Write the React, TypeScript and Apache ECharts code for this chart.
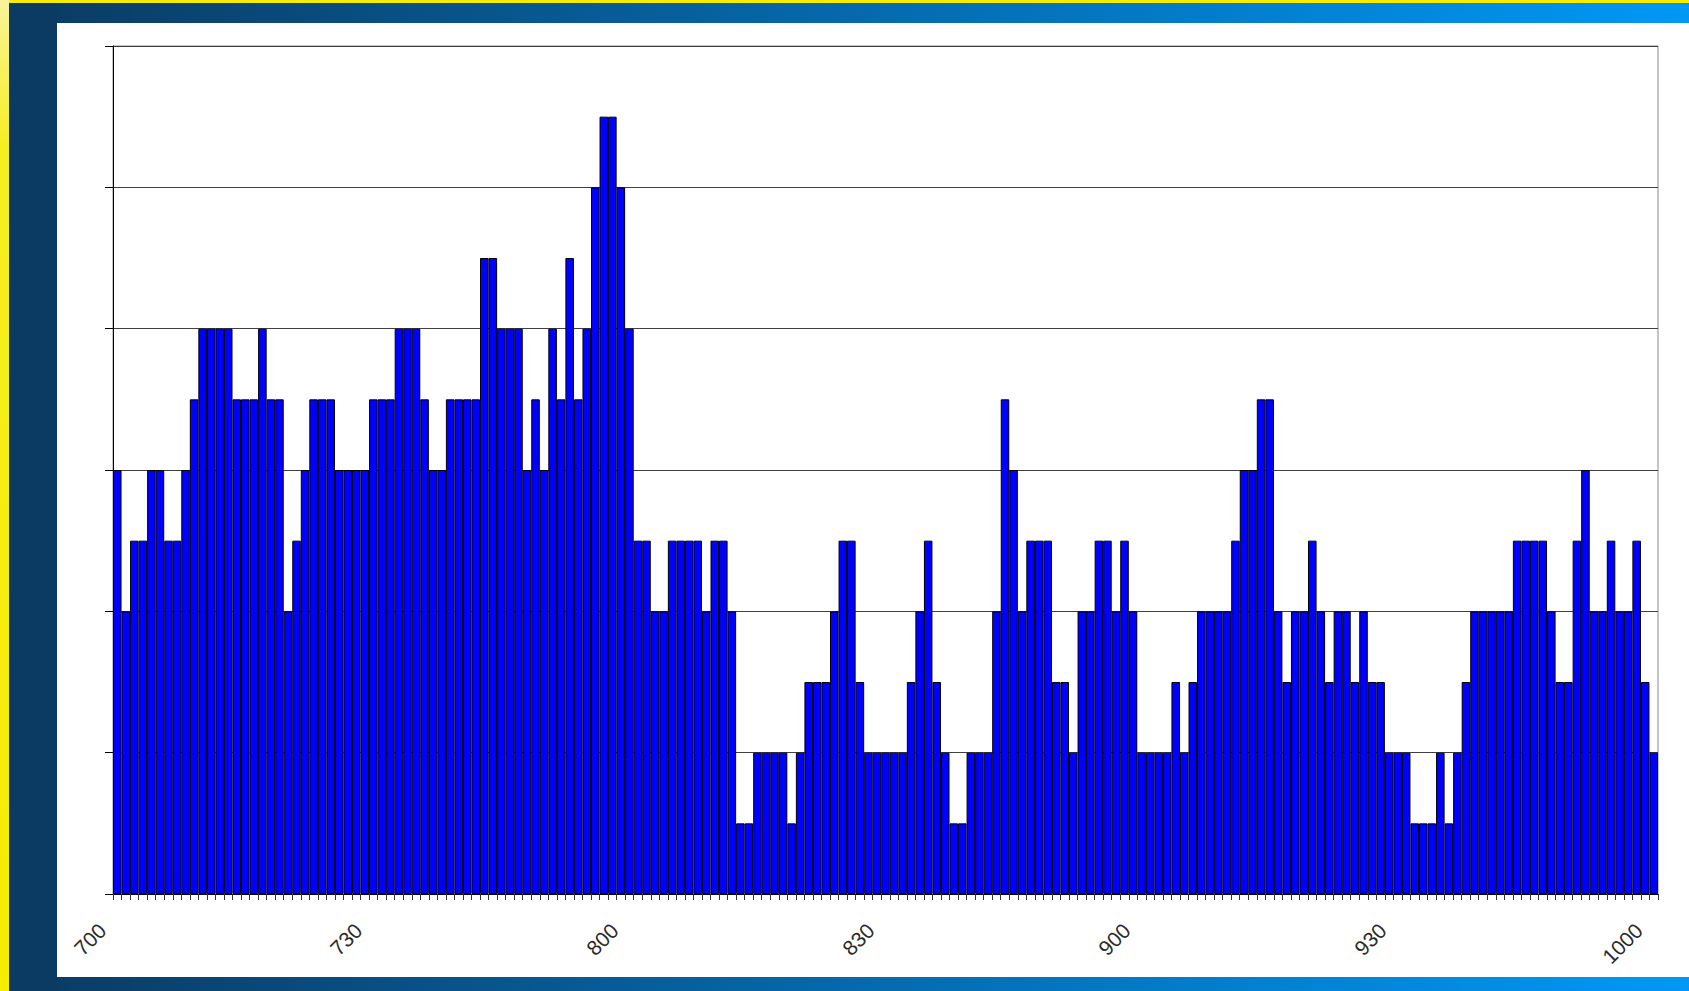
import React, { useEffect, useRef } from "react";
import * as echarts from "echarts";

// Category labels: minutes from 700 to 1000 (HMM)
const hours: number[] = [7, 8, 9, 10];
const categories: string[] = [];
hours.forEach((h) => {
  const last = h === 10 ? 0 : 59;
  for (let m = 0; m <= last; m++) categories.push(`${h}${m < 10 ? "0" + m : m}`);
});

// Counts per minute
const counts700: number[] = [
  6, 4, 5, 5, 6, 6, 5, 5, 6, 7, 8, 8, 8, 8, 7, 7, 7, 8, 7, 7,
  4, 5, 6, 7, 7, 7, 6, 6, 6, 6,
];
const counts730: number[] = [
  7, 7, 7, 8, 8, 8, 7, 6, 6, 7, 7, 7, 7, 9, 9, 8, 8, 8, 6, 7,
  6, 8, 7, 9, 7, 8, 10, 11, 11, 10,
];
const counts800: number[] = [
  8, 5, 5, 4, 4, 5, 5, 5, 5, 4, 5, 5, 4, 1, 1, 2, 2, 2, 2, 1,
  2, 3, 3, 3, 4, 5, 5, 3, 2, 2,
];
const counts830: number[] = [
  2, 2, 2, 3, 4, 5, 3, 2, 1, 1, 2, 2, 2, 4, 7, 6, 4, 5, 5, 5,
  3, 3, 2, 4, 4, 5, 5, 4, 5, 4,
];
const counts900: number[] = [
  2, 2, 2, 2, 3, 2, 3, 4, 4, 4, 4, 5, 6, 6, 7, 7, 4, 3, 4, 4,
  5, 4, 3, 4, 4, 3, 4, 3, 3, 2,
];
const counts930: number[] = [
  2, 2, 1, 1, 1, 2, 1, 2, 3, 4, 4, 4, 4, 4, 5, 5, 5, 5, 4, 3,
  3, 5, 6, 4, 4, 5, 4, 4, 5, 3,
];
const counts1000: number[] = [2];

const values: number[] = [
  ...counts700,
  ...counts730,
  ...counts800,
  ...counts830,
  ...counts900,
  ...counts930,
  ...counts1000,
];

const W = 1689;
const H = 991;

export default function App() {
  const ref = useRef<HTMLDivElement>(null);
  useEffect(() => {
    if (!ref.current) return;
    const chart = echarts.init(ref.current, undefined, { renderer: "svg" });
    const navy = "#0b3a62";
    const bright = "#0098f5";
    chart.setOption({
      animation: false,
      backgroundColor: "#ffffff",
      graphic: {
        elements: [
          {
            type: "rect",
            z: -10,
            shape: { x: 0, y: 0, width: W, height: 3 },
            style: { fill: "#f6ec00" },
          },
          {
            type: "rect",
            z: -10,
            shape: { x: 0, y: 0, width: 9, height: H },
            style: {
              fill: new echarts.graphic.LinearGradient(0, 0, 0, 1, [
                { offset: 0, color: "#f8f39a" },
                { offset: 0.15, color: "#f6ee20" },
                { offset: 1, color: "#f5ec00" },
              ]),
            },
          },
          {
            type: "rect",
            z: -10,
            shape: { x: 9, y: 3, width: W - 9, height: 20 },
            style: {
              fill: new echarts.graphic.LinearGradient(0, 0, 1, 0, [
                { offset: 0, color: navy },
                { offset: 1, color: bright },
              ]),
            },
          },
          {
            type: "rect",
            z: -10,
            shape: { x: 9, y: 977, width: W - 9, height: 14 },
            style: {
              fill: new echarts.graphic.LinearGradient(0, 0, 1, 0, [
                { offset: 0, color: navy },
                { offset: 1, color: bright },
              ]),
            },
          },
          {
            type: "rect",
            z: -10,
            shape: { x: 9, y: 3, width: 48, height: H - 3 },
            style: { fill: navy },
          },
        ],
      },
      grid: {
        left: 113,
        top: 46,
        width: 1545,
        height: 848,
        show: true,
        borderColor: "#8a8a8a",
        borderWidth: 1,
        backgroundColor: "#ffffff",
      },
      xAxis: {
        type: "category",
        data: categories,
        boundaryGap: true,
        axisLine: { show: true, lineStyle: { color: "#000000", width: 1 } },
        axisTick: {
          show: true,
          interval: 0,
          length: 6,
          lineStyle: { color: "#333333" },
        },
        axisLabel: {
          interval: 29,
          rotate: 45,
          fontFamily: "Liberation Sans, Arial, sans-serif",
          fontSize: 21,
          color: "#2a2a2a",
          margin: 18,
          padding: [0, 21, 0, 0],
        },
        splitLine: { show: false },
      },
      yAxis: {
        type: "value",
        min: 0,
        max: 12,
        interval: 2,
        axisLine: { show: true, lineStyle: { color: "#000000", width: 1 } },
        axisTick: { show: true, length: 8, lineStyle: { color: "#000000" } },
        axisLabel: { show: false },
        splitLine: { show: true, lineStyle: { color: "#404040", width: 1 } },
      },
      series: [
        {
          type: "bar",
          data: values,
          barCategoryGap: "0%",
          barGap: "0%",
          itemStyle: { color: "#0000ff", borderColor: "#000000", borderWidth: 1 },
        },
      ],
    });
    return () => chart.dispose();
  }, []);
  return (
    <div
      ref={ref}
      style={{ position: "fixed", left: 0, top: 0, width: W, height: H }}
    />
  );
}
